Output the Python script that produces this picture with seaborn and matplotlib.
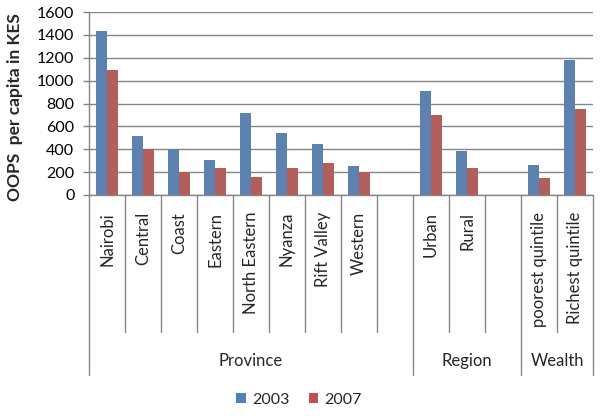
import matplotlib

matplotlib.use("Agg")
import matplotlib.pyplot as plt
import matplotlib.transforms as mtransforms
import pandas as pd
import seaborn as sns
from matplotlib.patches import Patch

# slots on the category axis; blank slots separate the groups like in the Excel original
categories = [
    "Nairobi", "Central", "Coast", "Eastern", "North Eastern", "Nyanza",
    "Rift Valley", "Western", " ", "Urban", "Rural", "  ",
    "poorest quintile", "Richest quintile",
]
oops_2003 = [1434, 518, 404, 308, 716, 538, 442, 256, None, 913, 384, None, 262, 1184]
oops_2007 = [1091, 399, 200, 239, 160, 233, 276, 204, None, 698, 236, None, 148, 748]

groups = ["Province", "Region", "Wealth"]
group_sizes = [9, 3, 2]

years = ["2003", "2007"]
colors = ["#4F81BD", "#C0504D"]

rows = []
for cat, v3, v7 in zip(categories, oops_2003, oops_2007):
    if v3 is None:
        continue
    rows.append({"category": cat, "year": "2003", "oops": v3})
    rows.append({"category": cat, "year": "2007", "oops": v7})
df = pd.DataFrame(rows)

sns.set_theme(style="white")
plt.rcParams["font.family"] = ["Lato", "DejaVu Sans"]

W, H = 600, 416
fig = plt.figure(figsize=(W / 100, H / 100), dpi=100)
left, right, top, bottom = 89, 593, 12, 195
ax = fig.add_axes([left / W, 1 - bottom / H, (right - left) / W, (bottom - top) / H])

sns.barplot(
    data=df,
    x="category",
    y="oops",
    hue="year",
    order=categories,
    hue_order=years,
    palette=dict(zip(years, colors)),
    width=0.6,
    linewidth=0,
    legend=False,
    ax=ax,
)

grey = "#868686"
ax.set_xlim(-0.5, len(categories) - 0.5)
ax.set_ylim(0, 1600)
ax.set_yticks(range(0, 1601, 200))
ax.yaxis.grid(True, color=grey, linewidth=1)
ax.set_axisbelow(True)
ax.tick_params(axis="y", labelsize=11.5, colors="black", length=4.5, width=1,
               color=grey, pad=6, left=True)
ax.set_xticks([])
ax.set_xlabel("")
ax.set_ylabel("")
fig.text(15 / W, 1 - 107 / H, "OOPS  per capita in KES", rotation=90, ha="center",
         va="center", fontsize=12.5, fontweight="bold")
for side in ["top", "right"]:
    ax.spines[side].set_visible(False)
for side in ["left", "bottom"]:
    ax.spines[side].set_color(grey)
    ax.spines[side].set_linewidth(1)

# multi-level category axis below the plot
ah = bottom - top
trans = mtransforms.blended_transform_factory(ax.transData, ax.transAxes)
cat_sep = -(332 - bottom) / ah
grp_sep = -(375 - bottom) / ah
group_edges = [-0.5]
for n in group_sizes:
    group_edges.append(group_edges[-1] + n)
for i in range(len(categories) + 1):
    xb = i - 0.5
    y_end = grp_sep if xb in group_edges else cat_sep
    ax.plot([xb, xb], [0, y_end], color=grey, linewidth=1, transform=trans, clip_on=False)

for i, cat in enumerate(categories):
    ax.text(i, -(212 - bottom) / ah, cat.strip(), rotation=90, ha="center", va="top",
            fontsize=12, transform=trans)

for g, a, b in zip(groups, group_edges[:-1], group_edges[1:]):
    ax.text((a + b) / 2, -(361 - bottom) / ah, g, ha="center", va="center",
            fontsize=12, transform=trans)

handles = [Patch(facecolor=c, edgecolor="none", label=y) for c, y in zip(colors, years)]
fig.legend(handles=handles, loc="center", bbox_to_anchor=(299 / W, 1 - 400 / H), ncol=2,
           frameon=False, fontsize=11.5, handlelength=0.6, handleheight=0.6,
           handletextpad=0.4, columnspacing=1.2)

fig.savefig("out.png", dpi=100)
